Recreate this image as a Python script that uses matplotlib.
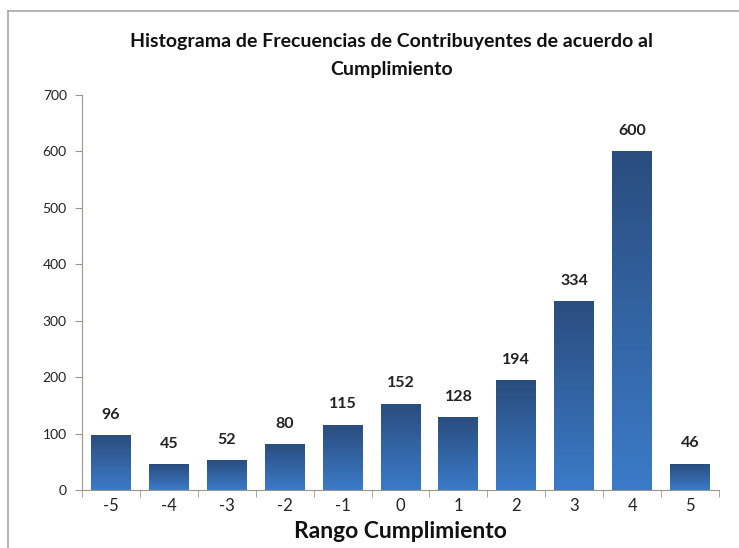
import matplotlib.pyplot as plt
import numpy as np
from matplotlib.lines import Line2D
from matplotlib.colors import LinearSegmentedColormap

plt.rcParams['font.family'] = ['Lato', 'DejaVu Sans']

rangos = [-5, -4, -3, -2, -1, 0, 1, 2, 3, 4, 5]
frecuencias = [96, 45, 52, 80, 115, 152, 128, 194, 334, 600, 46]
etiquetas = [str(r) for r in rangos]

fig = plt.figure(figsize=(7.39, 5.48), dpi=100)
ax = fig.add_axes([0.111, 0.1058, 0.862, 0.7208])

# barras con degradado (oscuro arriba, claro abajo)
grad = np.linspace(0, 1, 256).reshape(-1, 1)
cmap = LinearSegmentedColormap.from_list('azul', ['#3b7bc8', '#2a4d7e'])
ancho = 0.69
x = np.arange(len(rangos))
bars = ax.bar(x, frecuencias, width=ancho, color='none', edgecolor='none')
for b in bars:
    x0, w, h = b.get_x(), b.get_width(), b.get_height()
    ax.imshow(grad, cmap=cmap, aspect='auto', origin='lower',
              extent=[x0, x0 + w, 0, h], zorder=2)
    ax.annotate(str(int(h)), (x0 + w / 2, h), xytext=(0, 15),
                textcoords='offset points', ha='center', va='center',
                fontsize=11.5, fontweight='bold', color='#222222')

ax.set_xlim(-0.5, len(rangos) - 0.5)
ax.set_ylim(0, 700)
ax.set_yticks(range(0, 701, 100))
ax.set_xticks(x)
ax.set_xticklabels(etiquetas)
ax.set_xticks(np.arange(-0.5, len(rangos), 1), minor=True)
ax.tick_params(axis='x', which='major', length=0, pad=6, labelsize=12, colors='#222222')
ax.tick_params(axis='x', which='minor', length=5, color='#9a968a')
ax.tick_params(axis='y', length=5, labelsize=10, pad=6, colors='#222222')
ax.tick_params(axis='y', color='#9a968a')
for s in ['top', 'right']:
    ax.spines[s].set_visible(False)
ax.spines['left'].set_color('#9a968a')
ax.spines['bottom'].set_color('#9a968a')

ax.set_xlabel('Rango Cumplimiento', fontsize=16.5, fontweight='bold', labelpad=5, color='#111111')

fig.text(0.53, 1 - 42 / 548, 'Histograma de Frecuencias de Contribuyentes de acuerdo al',
         ha='center', va='center', fontsize=14, fontweight='bold', color='#111111')
fig.text(0.53, 1 - 70 / 548, 'Cumplimiento',
         ha='center', va='center', fontsize=14, fontweight='bold', color='#111111')

# borde del cuadro del grafico
fig.add_artist(Line2D([8 / 739, 8 / 739], [0, 1 - 11 / 548], transform=fig.transFigure, color='#a8a8a8', lw=1.2))
fig.add_artist(Line2D([8 / 739, 1], [1 - 11 / 548, 1 - 11 / 548], transform=fig.transFigure, color='#a8a8a8', lw=1.2))

fig.savefig('out.png', dpi=100)
